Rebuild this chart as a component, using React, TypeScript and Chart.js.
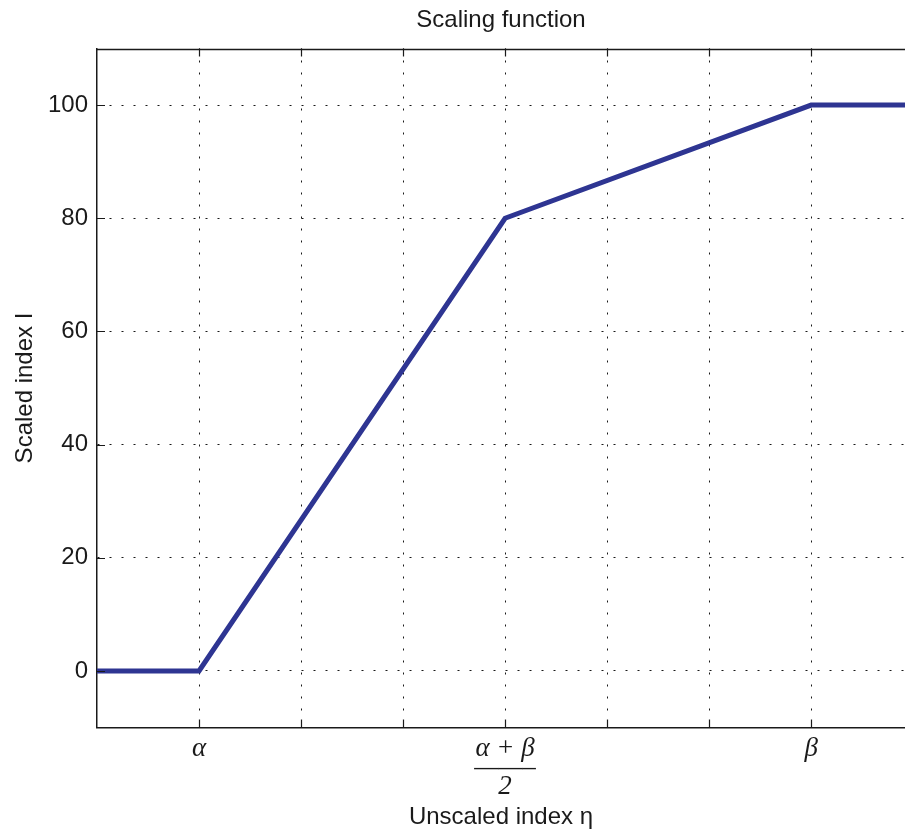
import { useEffect, useRef } from 'react';
import { Chart, registerables } from 'chart.js';

Chart.register(...registerables);

// ---- data ----
const seriesX = [0, 1, 4, 7, 8];
const seriesY = [0, 0, 80, 100, 100];
const xTickValues = [1, 2, 3, 4, 5, 6, 7];
const xTickLabels: (string | string[])[] = ['α', '', '', ['α + β', '——–', '2'], '', '', 'β'];
const yTickValues = [0, 20, 40, 60, 80, 100];
const xRange = [0, 7.92];
const yRange = [-10, 110];
const titleText = 'Scaling function';
const xTitle = 'Unscaled index η';
const yTitle = 'Scaled index I';

const SANS = '"Liberation Sans", Arial, Helvetica, sans-serif';
const SERIF = '"Liberation Serif", "Times New Roman", serif';
const INK = '#1a1a1a';

const framePlugin = {
  id: 'frame',
  afterDraw(chart: any) {
    const { ctx, chartArea } = chart;
    const { left, right, top, bottom } = chartArea;
    const xs = chart.scales.x;
    const ys = chart.scales.y;
    const len = 8;
    ctx.save();
    ctx.strokeStyle = INK;
    ctx.lineWidth = 1.2;
    ctx.beginPath();
    xs.ticks.forEach((t: any) => {
      const px = Math.round(xs.getPixelForValue(t.value)) + 0.5;
      ctx.moveTo(px, bottom);
      ctx.lineTo(px, bottom - len);
      ctx.moveTo(px, top);
      ctx.lineTo(px, top + len);
    });
    ys.ticks.forEach((t: any) => {
      const py = Math.round(ys.getPixelForValue(t.value)) + 0.5;
      ctx.moveTo(left, py);
      ctx.lineTo(left + len, py);
    });
    ctx.stroke();
    ctx.lineWidth = 1.5;
    ctx.beginPath();
    ctx.moveTo(left, Math.round(top) + 0.5);
    ctx.lineTo(right, Math.round(top) + 0.5);
    ctx.stroke();
    ctx.restore();
  },
};

export default function App() {
  const ref = useRef<HTMLCanvasElement | null>(null);

  useEffect(() => {
    if (!ref.current) return;
    const data = seriesX.map((x, i) => ({ x, y: seriesY[i] }));
    const chart = new Chart(ref.current, {
      type: 'line',
      data: {
        datasets: [
          {
            data,
            borderColor: '#2e3592',
            borderWidth: 5,
            pointRadius: 0,
            tension: 0,
            fill: false,
            borderJoinStyle: 'miter',
          },
        ],
      },
      options: {
        responsive: false,
        animation: false,
        layout: { padding: 0 },
        plugins: {
          legend: { display: false },
          tooltip: { enabled: false },
          title: {
            display: true,
            text: titleText,
            fullSize: false,
            color: INK,
            font: { family: SANS, size: 24, weight: 'normal', lineHeight: 1 },
            padding: { top: 8, bottom: 16.5 },
          },
        },
        scales: {
          x: {
            type: 'linear',
            min: xRange[0],
            max: xRange[1],
            afterBuildTicks: (s: any) => {
              s.ticks = xTickValues.map((v) => ({ value: v }));
            },
            afterFit: (s: any) => {
              s.height = 101.5;
            },
            grid: { color: 'rgba(0,0,0,0.9)', lineWidth: 1, drawTicks: false },
            border: { display: true, color: INK, width: 1.5, dash: [2, 10] },
            ticks: {
              autoSkip: false,
              maxRotation: 0,
              padding: 12,
              color: INK,
              font: { family: SERIF, size: 27, style: 'italic', lineHeight: 19 / 27 },
              callback: (v: any) => {
                const i = xTickValues.indexOf(Number(v));
                return i >= 0 ? xTickLabels[i] : '';
              },
            },
            title: {
              display: true,
              text: xTitle,
              color: INK,
              font: { family: SANS, size: 24, lineHeight: 1 },
              padding: { top: 0, bottom: 0 },
            },
          },
          y: {
            type: 'linear',
            min: yRange[0],
            max: yRange[1],
            afterBuildTicks: (s: any) => {
              s.ticks = yTickValues.map((v) => ({ value: v }));
            },
            afterFit: (s: any) => {
              s.width = 97;
            },
            grid: { color: 'rgba(0,0,0,0.9)', lineWidth: 1, drawTicks: false },
            border: { display: true, color: INK, width: 1.5, dash: [2, 10] },
            ticks: {
              padding: 9,
              color: INK,
              font: { family: SANS, size: 24 },
            },
            title: {
              display: true,
              text: yTitle,
              color: INK,
              font: { family: SANS, size: 24, lineHeight: 1 },
              padding: { top: 13.5, bottom: 0 },
            },
          },
        },
      },
      plugins: [framePlugin],
    });
    return () => chart.destroy();
  }, []);

  return (
    <canvas
      ref={ref}
      width={905}
      height={829}
      style={{ position: 'absolute', left: 0, top: 0, display: 'block', width: 905, height: 829 }}
    />
  );
}
